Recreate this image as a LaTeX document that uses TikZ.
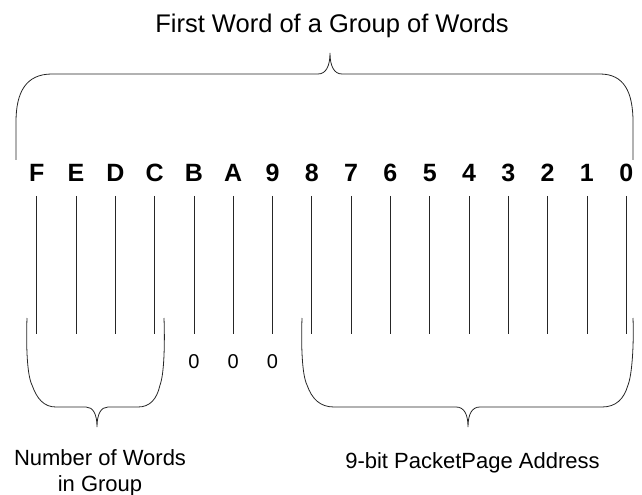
\documentclass[tikz,border=0pt]{standalone}
\usepackage{fontspec}
\setmainfont{Liberation Sans}
\begin{document}
\begin{tikzpicture}[x=1bp,y=-1bp,
  bitlabel/.style={font=\fontsize{25bp}{30bp}\selectfont\bfseries, inner sep=0pt},
  zerolabel/.style={font=\fontsize{20bp}{24bp}\selectfont, inner sep=0pt, anchor=base},
  title/.style={font=\fontsize{25.5bp}{30bp}\selectfont, inner sep=0pt, anchor=base},
  caption/.style={font=\fontsize{22bp}{27bp}\selectfont, inner sep=0pt, anchor=base},
  bitline/.style={line width=0.8bp, black!85},
  brace/.style={line width=0.8bp, black!85}]
\useasboundingbox (0,0) rectangle (642,495);

% title
\node[title] (ttl) at (332,33) {First Word of a Group of Words};

% bit labels and lines
\foreach \lab [count=\i from 0] in {F,E,D,C,B,A,9,8,7,6,5,4,3,2,1,0} {
  \pgfmathsetmacro{\xx}{36.7+39.3*\i}
  \node[bitlabel] (b\i) at (\xx,173) {\lab};
  \coordinate (t\i) at (\xx,196);
  \coordinate (e\i) at (\xx,334);
  \draw[bitline] (t\i) -- (e\i);
}

% zeros under B A 9
\node[zerolabel] (z1) at (193.9,368) {0};
\node[zerolabel] (z2) at (233.2,368) {0};
\node[zerolabel] (z3) at (272.5,368) {0};

% top brace
\draw[brace] (16,160) -- (16,122)
  .. controls (16,92) and (26,74) .. (52,74) -- (318,74)
  .. controls (326,74) and (330,66) .. (330,53)
  .. controls (330,66) and (334,74) .. (342,74) -- (600,74)
  .. controls (624,74) and (633,92) .. (633,122) -- (633,160);

% bottom left brace
\draw[brace] (27,318) .. controls (26,345) and (27,375) .. (32,385)
  .. controls (37,399) and (44,407) .. (56,407) -- (86,407)
  .. controls (93,407) and (97,414) .. (97,427)
  .. controls (97,414) and (101,407) .. (108,407) -- (138,407)
  .. controls (150,407) and (157,399) .. (160,385)
  .. controls (164,375) and (165,345) .. (164,318);

% bottom right brace
\draw[brace] (302,318) .. controls (301,345) and (302,375) .. (307,385)
  .. controls (312,399) and (320,407) .. (334,407) -- (456,407)
  .. controls (464,407) and (468,414) .. (468,427)
  .. controls (468,414) and (472,407) .. (480,407) -- (602,407)
  .. controls (616,407) and (624,399) .. (628,385)
  .. controls (632,375) and (634,345) .. (633,318);

% captions
\node[caption] (cap1) at (100,465) {Number of Words};
\node[caption] (cap2) at (100,491) {in Group};
\node[caption] (cap3) at (472.5,468) {9-bit PacketPage Address};
\end{tikzpicture}
\end{document}
